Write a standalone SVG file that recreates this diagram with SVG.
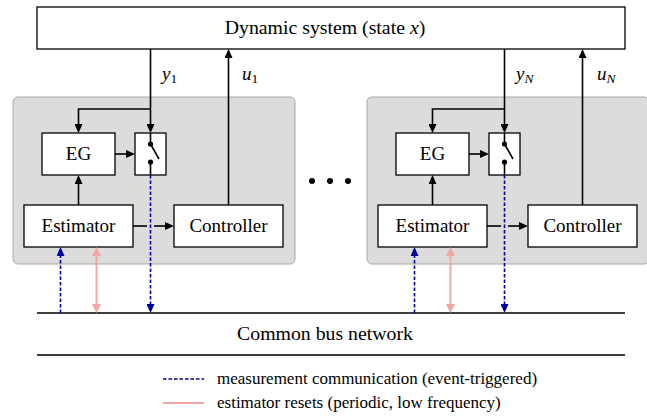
<svg xmlns="http://www.w3.org/2000/svg" width="647" height="417" viewBox="0 0 647 417" font-family="'Liberation Serif', 'DejaVu Serif', 'Times New Roman', serif">
<defs>
<style>
text{font-family:'Liberation Serif','DejaVu Serif','Times New Roman',serif}
.txt{font-size:19px;fill:#000;text-anchor:middle}
.big{font-size:19.8px}
.math{font-style:italic;font-size:19px;fill:#000}
.sub{font-size:13.5px;fill:#000;font-style:normal}
.subi{font-size:13.5px;fill:#000;font-style:italic}
.leg{font-size:17px;fill:#000}
.box{fill:#fff;stroke:#000;stroke-width:1.3}
.panel{fill:#dcdcdc;stroke:#a8a8a8;stroke-width:1}
.blk{fill:none;stroke:#000;stroke-width:1.6}
.blue{fill:none;stroke:#00009c;stroke-width:1.6;stroke-dasharray:3.5 2}
.pink{fill:none;stroke:#f4a6a6;stroke-width:2}
</style>
<marker id="ab" markerUnits="userSpaceOnUse" markerWidth="10" markerHeight="8" refX="7" refY="4" orient="auto"><path d="M0,0 L9,4 L0,8 z" fill="#000"/></marker>
<marker id="au" markerUnits="userSpaceOnUse" markerWidth="10" markerHeight="8" refX="7" refY="4" orient="auto"><path d="M0,0 L9,4 L0,8 z" fill="#00009c"/></marker>
<marker id="ap" markerUnits="userSpaceOnUse" markerWidth="10" markerHeight="9" refX="7" refY="4.5" orient="auto-start-reverse"><path d="M0,0 L9,4.5 L0,9 z" fill="#f4a6a6"/></marker>
</defs>

<rect width="647" height="417" fill="#fff"/>

<g id="panel1"><rect class="panel" x="13" y="97" width="282" height="167" rx="5"/></g>
<g id="panel2"><rect class="panel" x="367" y="97" width="282" height="167" rx="5"/></g>

<g id="system">
<rect class="box" x="37" y="7" width="588" height="42"/>
<text class="txt big" x="325" y="34">Dynamic system (state <tspan font-style="italic">x</tspan>)</text>
</g>

<g id="bus">
<line x1="37" y1="313" x2="625" y2="313" stroke="#000" stroke-width="1.3"/>
<line x1="37" y1="355" x2="625" y2="355" stroke="#000" stroke-width="1.3"/>
<text class="txt big" x="325" y="340">Common bus network</text>
</g>

<g id="eg1"><rect class="box" x="42" y="133" width="73" height="42"/><text class="txt" x="78.5" y="160">EG</text></g>
<g id="estimator1"><rect class="box" x="24" y="205" width="109" height="42"/><text class="txt" x="78.5" y="232">Estimator</text></g>
<g id="controller1"><rect class="box" x="174" y="205" width="109" height="42"/><text class="txt" x="228.5" y="232">Controller</text></g>
<g id="switch1">
<rect class="box" x="135" y="133" width="31" height="42"/>
<line x1="150.5" y1="133" x2="150.5" y2="144" stroke="#000" stroke-width="1.6"/>
<line x1="150.5" y1="162" x2="150.5" y2="175" stroke="#000" stroke-width="1.6"/>
<line x1="150.5" y1="144" x2="159" y2="159" stroke="#000" stroke-width="1.6"/>
<circle cx="150.5" cy="144" r="2.6"/><circle cx="150.5" cy="162" r="2.6"/>
</g>

<g id="eg2"><rect class="box" x="396" y="133" width="73" height="42"/><text class="txt" x="432.5" y="160">EG</text></g>
<g id="estimator2"><rect class="box" x="378" y="205" width="109" height="42"/><text class="txt" x="432.5" y="232">Estimator</text></g>
<g id="controller2"><rect class="box" x="528" y="205" width="109" height="42"/><text class="txt" x="582.5" y="232">Controller</text></g>
<g id="switch2">
<rect class="box" x="489" y="133" width="31" height="42"/>
<line x1="504.5" y1="133" x2="504.5" y2="144" stroke="#000" stroke-width="1.6"/>
<line x1="504.5" y1="162" x2="504.5" y2="175" stroke="#000" stroke-width="1.6"/>
<line x1="504.5" y1="144" x2="513" y2="159" stroke="#000" stroke-width="1.6"/>
<circle cx="504.5" cy="144" r="2.6"/><circle cx="504.5" cy="162" r="2.6"/>
</g>

<g id="dots"><circle cx="312" cy="181" r="3"/><circle cx="330" cy="181" r="3"/><circle cx="348" cy="181" r="3"/></g>

<g id="connectors">
<path class="blk" d="M150.5,49 V131" marker-end="url(#ab)"/>
<path class="blk" d="M150.5,109 H78.5 V131" marker-end="url(#ab)"/>
<path class="blk" d="M115,154 H133" marker-end="url(#ab)"/>
<path class="blk" d="M78.5,205 V177" marker-end="url(#ab)"/>
<path class="blk" d="M228.5,205 V51" marker-end="url(#ab)"/>
<path class="blk" d="M133,226 H147"/>
<path class="blk" d="M154,226 H172" marker-end="url(#ab)"/>
<path class="blue" d="M150.5,175 V311" marker-end="url(#au)"/>
<path class="blue" d="M60.5,313 V249" marker-end="url(#au)"/>
<path class="pink" d="M96.5,249 V311" marker-start="url(#ap)" marker-end="url(#ap)"/>
<path class="blk" d="M504.5,49 V131" marker-end="url(#ab)"/>
<path class="blk" d="M504.5,109 H432.5 V131" marker-end="url(#ab)"/>
<path class="blk" d="M469,154 H487" marker-end="url(#ab)"/>
<path class="blk" d="M432.5,205 V177" marker-end="url(#ab)"/>
<path class="blk" d="M582.5,205 V51" marker-end="url(#ab)"/>
<path class="blk" d="M487,226 H501"/>
<path class="blk" d="M508,226 H526" marker-end="url(#ab)"/>
<path class="blue" d="M504.5,175 V311" marker-end="url(#au)"/>
<path class="blue" d="M414.5,313 V249" marker-end="url(#au)"/>
<path class="pink" d="M450.5,249 V311" marker-start="url(#ap)" marker-end="url(#ap)"/>
</g>

<g id="labels">
<text class="math" x="162" y="80">y<tspan class="sub" dy="3">1</tspan></text>
<text class="math" x="242" y="80">u<tspan class="sub" dy="3">1</tspan></text>
<text class="math" x="516" y="80">y<tspan class="subi" dy="3">N</tspan></text>
<text class="math" x="597" y="80">u<tspan class="subi" dy="3">N</tspan></text>
</g>

<g id="legend">
<line class="blue" x1="163" y1="379" x2="204" y2="379"/>
<text class="leg" x="217" y="384">measurement communication (event-triggered)</text>
<line class="pink" x1="163" y1="403" x2="204" y2="403"/>
<text class="leg" x="217" y="408">estimator resets (periodic, low frequency)</text>
</g>
</svg>
